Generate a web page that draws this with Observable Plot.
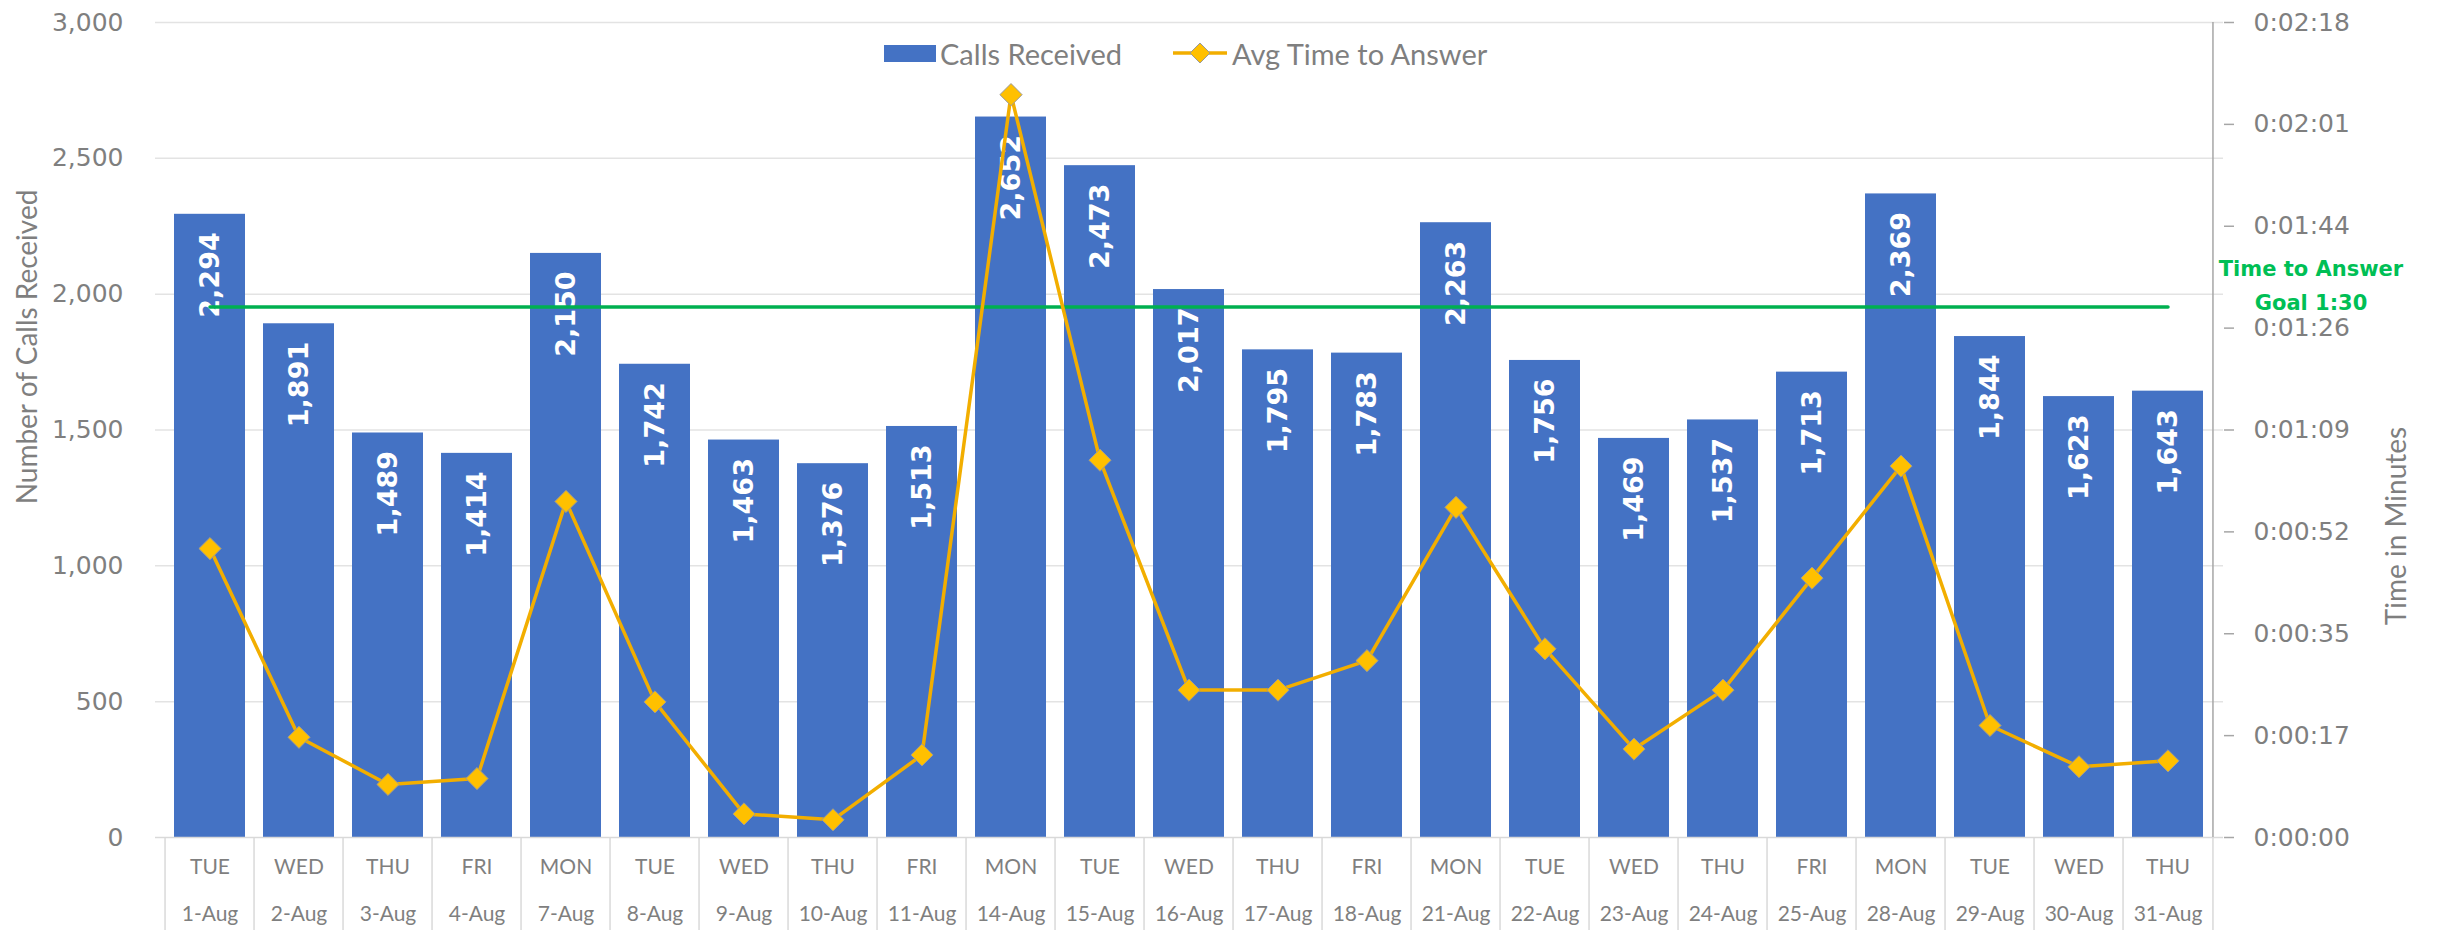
<!DOCTYPE html>
<html><head><meta charset="utf-8">
<script src="https://cdn.jsdelivr.net/npm/d3@7"></script>
<script src="https://cdn.jsdelivr.net/npm/@observablehq/plot@0.6"></script>
<style>
body{margin:0;background:#fff;}
#wrap{position:relative;width:2441px;height:930px;overflow:hidden;}
.leg{position:absolute;display:flex;align-items:center;font-family:Lato, sans-serif;font-size:29px;color:#7f7f7f;white-space:nowrap;height:34px;top:36px;}
.leg svg{display:block;}
</style></head>
<body><div id="wrap"></div>
<script>
const dates = ["1-Aug","2-Aug","3-Aug","4-Aug","7-Aug","8-Aug","9-Aug","10-Aug","11-Aug","14-Aug","15-Aug","16-Aug","17-Aug","18-Aug","21-Aug","22-Aug","23-Aug","24-Aug","25-Aug","28-Aug","29-Aug","30-Aug","31-Aug"];
const days = ["TUE","WED","THU","FRI","MON","TUE","WED","THU","FRI","MON","TUE","WED","THU","FRI","MON","TUE","WED","THU","FRI","MON","TUE","WED","THU"];
const callsReceived = [2294,1891,1489,1414,2150,1742,1463,1376,1513,2652,2473,2017,1795,1783,2263,1756,1469,1537,1713,2369,1844,1623,1643];
const avgTimeSec = [49,17,9,10,57,23,4,3,14,126,64,25,25,30,56,32,15,25,44,63,19,12,13];
const leftTicks = [0,500,1000,1500,2000,2500,3000];
const rightTickLabels = ["0:00:00","0:00:17","0:00:35","0:00:52","0:01:09","0:01:26","0:01:44","0:02:01","0:02:18"];
const goalSec = 90;
const goalLabel = "Time to Answer\nGoal 1:30";
const timeAxisMaxSec = 138.24;
const callsAxisMax = 3000;
const seriesNames = ["Calls Received","Avg Time to Answer"];
const leftTitle = "Number of Calls Received";
const rightTitle = "Time in Minutes";

const data = dates.map((d,i)=>({date:d, day:days[i], calls:callsReceived[i], sec:avgTimeSec[i]}));
const W=2441, H=930, mL=155, mR=218, mT=22, mB=93;
const step = (W-mL-mR)/dates.length;
const secToY = s => s/timeAxisMaxSec*callsAxisMax;
const rightTickVals = rightTickLabels.map((_,i)=> i*callsAxisMax/(rightTickLabels.length-1));
const rightLabelOf = new Map(rightTickVals.map((v,i)=>[v, rightTickLabels[i]]));
const dayOf = new Map(dates.map((d,i)=>[d, days[i]]));
const fmt = d3.format(",");
const last = dates[dates.length-1];
const blue = "#4472C4", lineCol = "#F2AE00", dotCol = "#FFC000", green = "#00B050";

const chart = Plot.plot({
  width: W, height: H, marginLeft: mL, marginRight: mR, marginTop: mT, marginBottom: mB,
  style: {fontFamily: "Lato, sans-serif", color: "#808080", background: "white", overflow: "visible"},
  x: {domain: dates, paddingInner: 0.2, paddingOuter: 0.1, axis: null},
  y: {domain: [0, callsAxisMax], axis: null},
  marks: [
    Plot.ruleY(leftTicks.filter(v=>v>0), {stroke:"#e3e3e3", strokeWidth:1.5}),
    Plot.barY(data, {x:"date", y:"calls", fill:blue}),
    Plot.ruleY([0], {stroke:"#d9d9d9", strokeWidth:1.5}),
    Plot.axisX({tickSize: mB, dx: -step/2, tickFormat: () => "", stroke:"#d9d9d9", strokeWidth:1.5, label:null}),
    Plot.axisX({ticks:[last], tickSize: mB, dx: step/2, tickFormat: () => "", stroke:"#d9d9d9", strokeWidth:1.5, label:null}),
    Plot.axisX({tickSize:0, tickPadding:22, tickFormat: d => dayOf.get(d), fontSize:21, fill:"#7f7f7f", label:null}),
    Plot.axisX({tickSize:0, tickPadding:69, tickFormat: d => d, fontSize:21, fill:"#7f7f7f", label:null}),
    Plot.axisY({anchor:"left", ticks:leftTicks, tickSize:0, tickPadding:32, tickFormat:fmt, fontSize:25, fontFamily:"DejaVu Sans", fill:"#7f7f7f", label:null}),
    Plot.ruleX([last], {dx: step/2, stroke:"#a6a6a6", strokeWidth:1.5}),
    Plot.axisY({anchor:"right", ticks:rightTickVals, tickSize:10, tickPadding:20, tickFormat: d => rightLabelOf.get(d), fontSize:25, fontFamily:"DejaVu Sans", fill:"#7f7f7f", stroke:"#a6a6a6", strokeWidth:1.5, label:null}),
    Plot.text(data, {x:"date", y:"calls", text: d => fmt(d.calls), rotate:-90, textAnchor:"end", lineAnchor:"middle", dy:18, fill:"white", fontWeight:"bold", fontSize:27, fontFamily:"DejaVu Sans"}),
    Plot.line([{date:dates[0], y:secToY(goalSec)}, {date:last, y:secToY(goalSec)}], {x:"date", y:"y", stroke:green, strokeWidth:3.5}),
    Plot.line(data, {x:"date", y: d => secToY(d.sec), stroke:lineCol, strokeWidth:3.5}),
    Plot.dot(data, {x:"date", y: d => secToY(d.sec), symbol:"diamond2", r:10, fill:dotCol, stroke:"#999999", strokeWidth:1}),
    Plot.text([{date:last, y:secToY(goalSec), t:goalLabel}], {x:"date", y:"y", text:"t", textAnchor:"middle", dx:143, dy:-24.5, lineHeight:1.6, fill:"#00BF55", fontWeight:"bold", fontSize:21, fontFamily:"DejaVu Sans"}),
    Plot.text([leftTitle], {frameAnchor:"left", textAnchor:"middle", dx:-127, dy:-83, rotate:-90, fontSize:28, fill:"#7f7f7f"}),
    Plot.text([rightTitle], {frameAnchor:"right", textAnchor:"middle", dx:174, dy:96, rotate:-90, fontSize:28, fill:"#7f7f7f"})
  ]
});
const wrap = document.getElementById("wrap");
wrap.appendChild(chart);

// legend overlay
const l1 = document.createElement("div");
l1.className = "leg"; l1.style.left = "884px";
l1.innerHTML = `<svg width="52" height="17"><rect width="52" height="17" fill="${blue}"/></svg><span style="margin-left:4px">${seriesNames[0]}</span>`;
wrap.appendChild(l1);
const l2 = document.createElement("div");
l2.className = "leg"; l2.style.left = "1173px";
l2.innerHTML = `<svg width="54" height="24"><line x1="0" x2="54" y1="12" y2="12" stroke="${lineCol}" stroke-width="3.5"/><path d="M27,2L37,12L27,22L17,12Z" fill="${dotCol}" stroke="#999" stroke-width="1"/></svg><span style="margin-left:5px">${seriesNames[1]}</span>`;
wrap.appendChild(l2);
</script>
</body></html>
